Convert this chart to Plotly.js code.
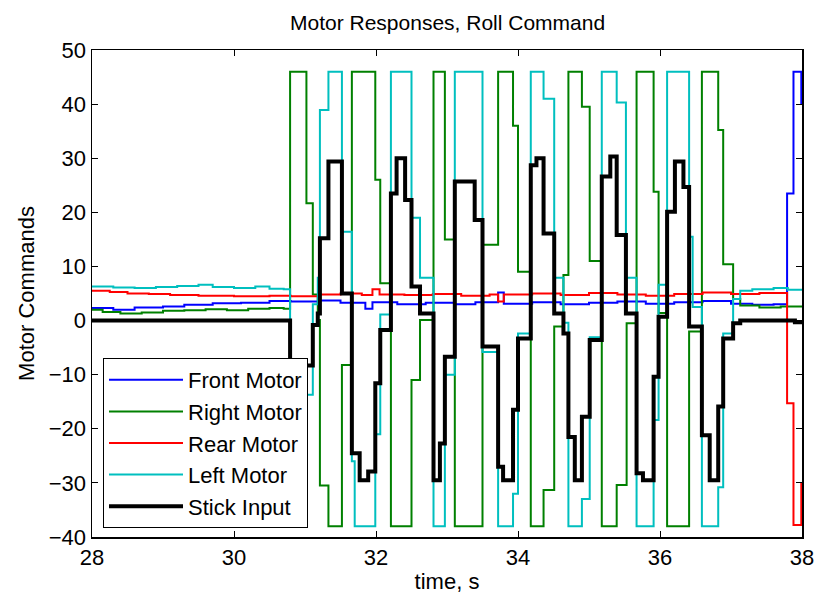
<!DOCTYPE html>
<html>
<head>
<meta charset="utf-8">
<script src="https://cdn.plot.ly/plotly-3.0.1.min.js"></script>
<style>html,body{margin:0;padding:0;background:#fff;}#chart{width:819px;height:600px;}</style>
</head>
<body>
<div id="chart"></div>
<script>
// ---- data (step-change times in seconds, value held until next time) ----
var frontT = [28.00,28.30,28.60,29.00,29.30,29.70,30.10,30.50,30.80,31.20,31.50,31.85,31.95,32.30,32.70,33.10,33.40,33.72,33.80,34.20,34.60,35.00,35.40,35.80,36.20,36.60,37.00,37.30,37.60,37.79,37.88,37.99,38.00];
var frontV = [2.3,2.0,2.4,2.6,2.9,3.2,3.3,3.6,3.5,3.7,3.3,2.2,3.4,3.0,3.3,3.0,3.4,5.2,3.1,3.4,3.0,3.3,3.5,3.1,3.4,3.6,3.1,2.9,3.0,23.5,46.0,40.0,40.0];

var rearT = [28.00,28.25,28.50,28.80,29.10,29.50,30.00,30.50,30.80,31.20,31.50,31.80,31.95,32.05,32.40,32.80,33.20,33.60,33.72,33.80,34.20,34.60,35.00,35.40,35.80,36.20,36.60,37.00,37.40,37.79,37.88,37.99,38.00];
var rearV = [5.5,5.3,5.0,4.9,4.7,4.6,4.5,4.6,4.5,4.8,5.0,4.7,5.8,4.8,4.7,4.9,4.6,4.8,3.5,4.8,5.0,4.7,5.1,4.8,4.6,4.9,5.2,4.9,5.1,-15.3,-37.8,-30.0,-30.0];

var stickT = [28.00,30.79,31.00,31.11,31.18,31.21,31.33,31.52,31.66,31.77,31.89,31.99,32.06,32.21,32.29,32.41,32.50,32.62,32.81,32.90,32.97,33.11,33.39,33.50,33.72,33.79,33.93,34.00,34.18,34.26,34.36,34.51,34.64,34.71,34.80,34.90,35.01,35.18,35.30,35.39,35.52,35.67,35.76,35.91,35.98,36.10,36.21,36.33,36.41,36.59,36.70,36.82,36.89,37.03,37.13,37.90,38.00];
var stickV = [0.0,-25.0,-8.3,-0.8,1.3,15.2,29.4,5.0,-24.5,-29.5,-27.9,-11.6,-1.75,23.5,30.0,22.3,6.3,1.3,-29.5,-22.7,-6.7,25.7,18.6,-4.8,-27.0,-29.5,-16.5,-3.3,28.7,30.0,16.1,1.3,-2.4,-21.5,-29.5,-17.8,-3.6,26.6,30.3,15.8,1.3,-28.2,-29.5,-10.4,0.7,20.1,29.4,24.7,-1.1,-21.2,-29.5,-15.9,-3.3,-0.5,0.0,-0.3,-0.3];

var rightT = [28.00,28.15,28.40,28.70,29.00,29.30,29.60,29.90,30.20,30.50,30.70,30.79,31.02,31.11,31.18,31.21,31.33,31.52,31.66,31.99,32.06,32.21,32.50,32.62,32.81,32.97,33.11,33.50,33.72,33.93,34.00,34.18,34.36,34.51,34.64,34.71,34.90,35.01,35.18,35.39,35.53,35.67,35.91,35.98,36.10,36.41,36.59,36.82,36.89,37.03,37.13,37.40,37.70,38.00];
var rightV = [2.0,1.6,1.3,1.5,1.8,1.9,2.1,1.9,2.2,2.3,2.2,46.0,21.7,4.8,0.1,-30.5,-38.0,-8.2,46.0,26.0,6.9,-38.0,-11.0,0.1,46.0,15.0,-38.0,14.0,46.0,36.0,9.0,-38.0,-31.3,-1.1,8.4,46.0,39.5,11.0,-38.0,-30.4,-0.5,46.0,23.8,1.4,-38.0,-2.0,46.0,35.2,10.4,4.0,2.8,2.4,2.6,2.5];

var leftT = [28.00,28.30,28.60,28.90,29.20,29.50,29.70,30.00,30.30,30.50,30.70,30.79,31.00,31.11,31.18,31.21,31.33,31.52,31.66,31.70,31.99,32.06,32.21,32.50,32.62,32.81,32.97,33.11,33.50,33.72,33.93,34.00,34.18,34.36,34.51,34.64,34.71,34.90,35.01,35.18,35.39,35.52,35.67,35.91,35.98,36.10,36.41,36.46,36.59,36.82,36.89,37.03,37.13,37.30,37.60,37.80,38.00];
var leftV = [6.3,6.1,6.0,6.2,6.4,6.6,6.2,6.0,6.3,5.9,5.8,-38.0,-13.7,3.0,7.9,38.9,46.0,16.4,-26.0,-38.0,-21.0,1.1,46.0,19.0,7.9,-38.0,-10.0,46.0,-5.8,-38.0,-32.0,-2.4,46.0,41.0,7.9,-0.4,-38.0,-33.0,-3.1,46.0,40.3,7.9,-38.0,-18.4,6.6,46.0,15.5,2.5,-38.0,-30.8,-2.4,4.0,5.5,5.8,6.0,5.7,5.6];

var seriesNames = ["Front Motor","Right Motor","Rear Motor","Left Motor","Stick Input"];
var xTicks = [28,30,32,34,36,38];
var yTicks = [-40,-30,-20,-10,0,10,20,30,40,50];

var FONT = "Liberation Sans, Arial, Helvetica, sans-serif";
function tr(x, y, name, color, w) {
  return {x: x, y: y, name: name, type: "scatter", mode: "lines",
          line: {color: color, width: w, shape: "hv"}};
}
var data = [
  tr(frontT, frontV, seriesNames[0], "#0000FF", 2),
  tr(rightT, rightV, seriesNames[1], "#008000", 2),
  tr(rearT, rearV, seriesNames[2], "#FF0000", 2),
  tr(leftT, leftV, seriesNames[3], "#00BFBF", 2),
  tr(stickT, stickV, seriesNames[4], "#000000", 4)
];
var axisCommon = {
  showline: true, mirror: "ticks", linecolor: "#000", linewidth: 1.5,
  ticks: "inside", ticklen: 6, tickcolor: "#000", tickwidth: 1,
  showgrid: false, zeroline: false,
  tickfont: {family: FONT, size: 22, color: "#000"}
};
var layout = {
  width: 819, height: 600,
  margin: {l: 92, r: 17, t: 50, b: 63},
  paper_bgcolor: "#fff", plot_bgcolor: "#fff",
  font: {family: FONT, color: "#000"},
  title: {text: "Motor Responses, Roll Command", font: {family: FONT, size: 21, color: "#000"},
          x: 0.5465, xanchor: "center", y: 0.963, yanchor: "middle"},
  xaxis: Object.assign({}, axisCommon, {range: [28, 38], tickvals: xTicks,
          title: {text: "time, s", font: {family: FONT, size: 22, color: "#000"}, standoff: 4}}),
  yaxis: Object.assign({}, axisCommon, {range: [-40, 50], tickvals: yTicks,
          title: {text: "Motor Commands", font: {family: FONT, size: 22, color: "#000"}, standoff: 8}}),
  showlegend: true,
  legend: {x: 0.0155, y: 0.0185, xanchor: "left", yanchor: "bottom",
           bgcolor: "#fff", bordercolor: "#000", borderwidth: 1,
           font: {family: FONT, size: 22, color: "#000"}, itemwidth: 74,
           entrywidth: 215, entrywidthmode: "pixels",
           tracegroupgap: 0}
};
Plotly.newPlot("chart", data, layout, {displayModeBar: false, staticPlot: true});
</script>
</body>
</html>
